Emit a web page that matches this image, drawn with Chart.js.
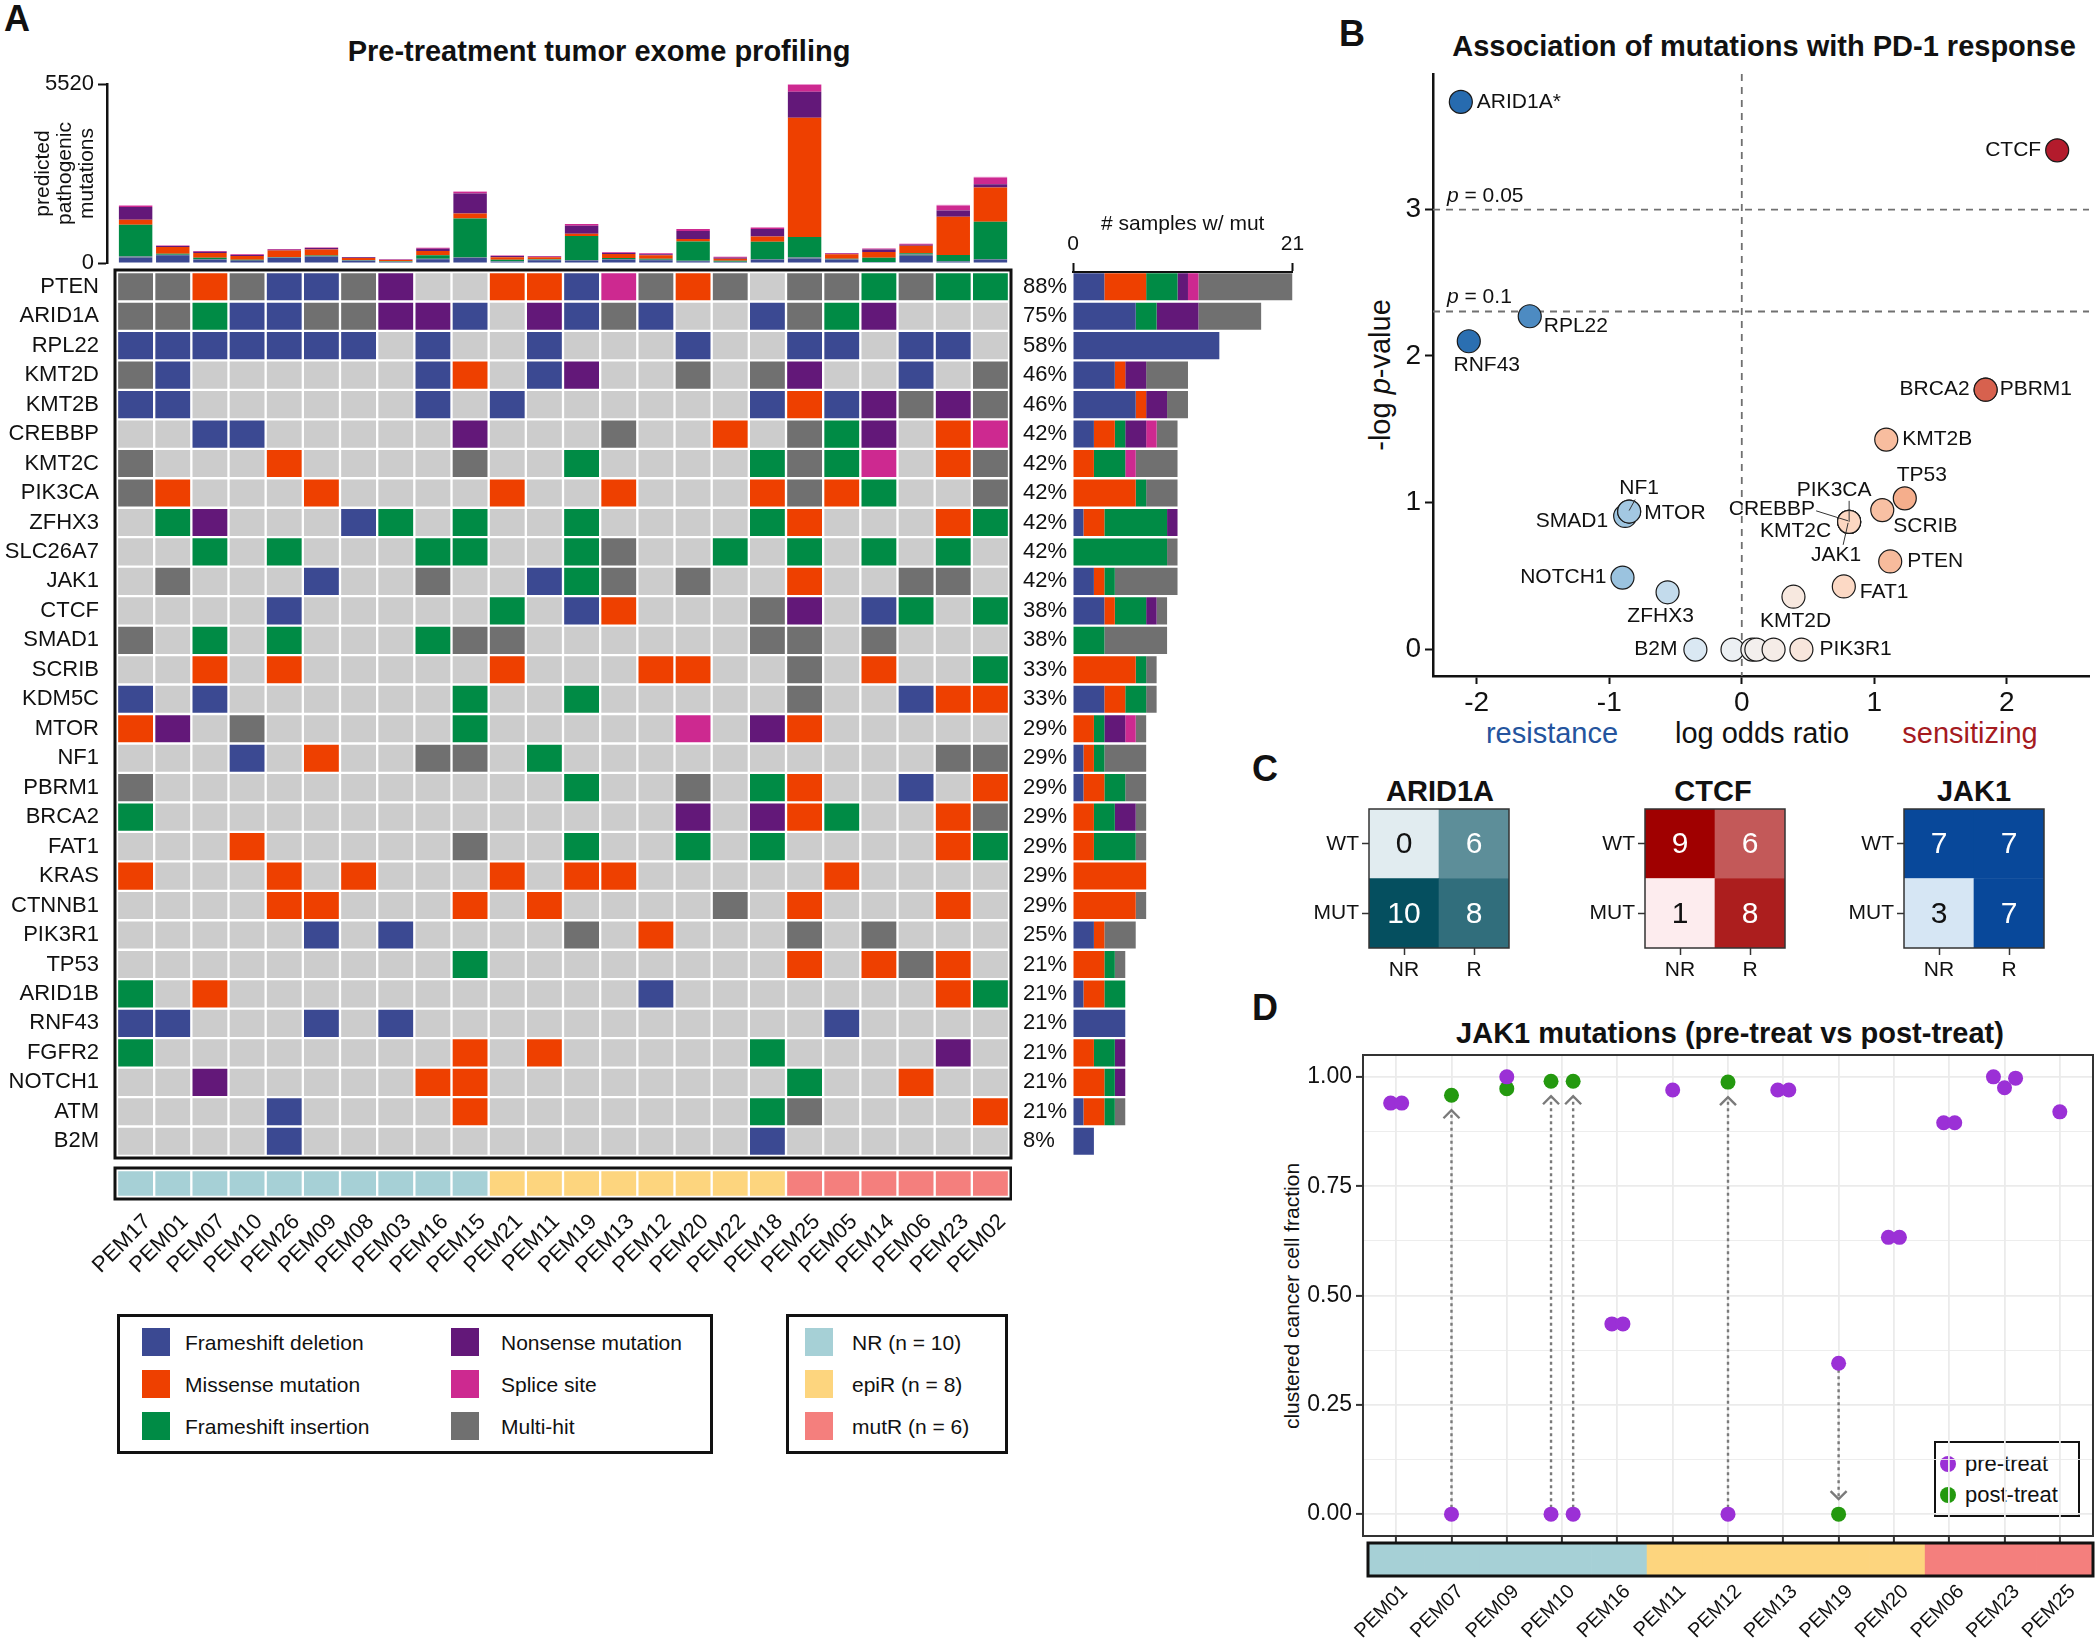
<!DOCTYPE html>
<html>
<head>
<meta charset="utf-8">
<title>Pre-treatment exome profiling and PD-1 response</title>
<script src="https://cdn.jsdelivr.net/npm/chart.js@4.4.1/dist/chart.umd.min.js"></script>
<style>
  html, body { margin: 0; padding: 0; background: #fff; }
  #page { position: relative; width: 2100px; height: 1642px; overflow: hidden;
    font-family: 'Liberation Sans', Arial, Helvetica, sans-serif; color: #111; }
  #page canvas { position: absolute; }
  .t { position: absolute; white-space: nowrap; line-height: 1; transform: translate(-50%, -50%); }
  .l { position: absolute; white-space: nowrap; line-height: 1; transform: translateY(-50%); }
  .rot { transform: translate(-50%, -50%) rotate(-90deg); }
  .letter { font-size: 36px; font-weight: bold; }
  .title { font-size: 29px; font-weight: bold; }
  .box { position: absolute; box-sizing: border-box; border: 3px solid #111; }
  .sw { position: absolute; width: 28px; height: 28px; }
  .lg { font-size: 21px; }
  .dot { position: absolute; width: 16px; height: 16px; border-radius: 50%; }
</style>
</head>
<body>
<div id="page">
  <div class="t letter" style="left:17px;top:19px">A</div>
  <div class="t title" style="left:599px;top:51px">Pre-treatment tumor exome profiling</div>

  <div class="box" style="left:117px;top:1314px;width:596px;height:140px"></div>
  <div class="sw" style="left:142px;top:1328px;background:#3B4992"></div>
  <div class="l lg" style="left:185px;top:1342px">Frameshift deletion</div>
  <div class="sw" style="left:142px;top:1370px;background:#EE4000"></div>
  <div class="l lg" style="left:185px;top:1384px">Missense mutation</div>
  <div class="sw" style="left:142px;top:1412px;background:#008B45"></div>
  <div class="l lg" style="left:185px;top:1426px">Frameshift insertion</div>
  <div class="sw" style="left:451px;top:1328px;background:#631879"></div>
  <div class="l lg" style="left:501px;top:1342px">Nonsense mutation</div>
  <div class="sw" style="left:451px;top:1370px;background:#CD2990"></div>
  <div class="l lg" style="left:501px;top:1384px">Splice site</div>
  <div class="sw" style="left:451px;top:1412px;background:#707070"></div>
  <div class="l lg" style="left:501px;top:1426px">Multi-hit</div>

  <div class="box" style="left:786px;top:1314px;width:222px;height:140px"></div>
  <div class="sw" style="left:805px;top:1328px;background:#A6D0D6"></div>
  <div class="l lg" style="left:852px;top:1342px">NR (n = 10)</div>
  <div class="sw" style="left:805px;top:1370px;background:#FDD57E"></div>
  <div class="l lg" style="left:852px;top:1384px">epiR (n = 8)</div>
  <div class="sw" style="left:805px;top:1412px;background:#F47F7D"></div>
  <div class="l lg" style="left:852px;top:1426px">mutR (n = 6)</div>

  <div class="t letter" style="left:1352px;top:34px">B</div>
  <div class="t title" style="left:1764px;top:46px">Association of mutations with PD-1 response</div>
  <div class="t rot" style="left:1380px;top:375px;font-size:29px">-log <i>p</i>-value</div>
  <div class="t" style="left:1552px;top:733px;font-size:29px;color:#24549E">resistance</div>
  <div class="t" style="left:1762px;top:733px;font-size:29px">log odds ratio</div>
  <div class="t" style="left:1970px;top:733px;font-size:29px;color:#A51B1F">sensitizing</div>

  <div class="t letter" style="left:1265px;top:769px">C</div>

  <div class="t letter" style="left:1265px;top:1008px">D</div>
  <div class="t title" style="left:1730px;top:1033px">JAK1 mutations (pre-treat vs post-treat)</div>
  <div class="t rot" style="left:1291px;top:1296px;font-size:21px">clustered cancer cell fraction</div>
  <div class="box" style="left:1934px;top:1441px;width:146px;height:76px;border-width:2px"></div>
  <div class="dot" style="left:1940px;top:1456px;background:#9B30D6"></div>
  <div class="l" style="left:1965px;top:1464px;font-size:22px">pre-treat</div>
  <div class="dot" style="left:1940px;top:1487px;background:#24990F"></div>
  <div class="l" style="left:1965px;top:1495px;font-size:22px">post-treat</div>
</div>

<script>
// ---------- panel A: oncoprint ----------
const samples = ['PEM17','PEM01','PEM07','PEM10','PEM26','PEM09','PEM08','PEM03','PEM16','PEM15',
  'PEM21','PEM11','PEM19','PEM13','PEM12','PEM20','PEM22','PEM18',
  'PEM25','PEM05','PEM14','PEM06','PEM23','PEM02'];
const sampleGroup = ['NR','NR','NR','NR','NR','NR','NR','NR','NR','NR',
  'epiR','epiR','epiR','epiR','epiR','epiR','epiR','epiR',
  'mutR','mutR','mutR','mutR','mutR','mutR'];

const genes = ['PTEN','ARID1A','RPL22','KMT2D','KMT2B','CREBBP','KMT2C','PIK3CA','ZFHX3','SLC26A7',
  'JAK1','CTCF','SMAD1','SCRIB','KDM5C','MTOR','NF1','PBRM1','BRCA2','FAT1',
  'KRAS','CTNNB1','PIK3R1','TP53','ARID1B','RNF43','FGFR2','NOTCH1','ATM','B2M'];

// one letter per sample: D frameshift del, M missense, I frameshift ins, S nonsense, P splice, X multi-hit, N none
const mutMatrix = [
  'XXMXDDXSNNMMDPXMXNXXIXII',
  'XXIDDXXSSDNSDXDNNDXISNNN',
  'DDDDDDDNDNNDNNNDNNDDNDDN',
  'XDNNNNNNDMNDSNNXNXSNNDNX',
  'DDNNNNNNDNDNNNNNNDMDSXSX',
  'NNDDNNNNNSNNNXNNMNXISNMP',
  'XNNNMNNNNXNNINNNNIXIPNMX',
  'XMNNNMNNNNMNNMNNNMXMINNX',
  'NISNNNDININNINNNNIMNNNMI',
  'NNININNNIINNIXNNININININ',
  'NXNNNDNNXNNDIXNXNNMNNXXN',
  'NNNNDNNNNNINDMNNNXSNDINI',
  'XNININNNIXXNNNNNNXXNXNNN',
  'NNMNMNNNNNMNNNMMNNXNMNNI',
  'DNDNNNNNNINNINNNNNXNNDMM',
  'MSNXNNNNNINNNNNPNSMNNNNN',
  'NNNDNMNNXXNINNNNNNNNNNXX',
  'XNNNNNNNNNNNINNXNIMNNDNM',
  'INNNNNNNNNNNNNNSNSMINNMX',
  'NNNMNNNNNXNNINNININNNNMI',
  'MNNNMNMNNNMNMMNNNNNMNNNN',
  'NNNNMMNNNMNMNNNNXNMNNNMN',
  'NNNNNDNDNNNNXNMNNNXNXNNN',
  'NNNNNNNNNINNNNNNNNMNMXMN',
  'INMNNNNNNNNNNNDNNNNNNNMI',
  'DDNNNDNDNNNNNNNNNNNDNNNN',
  'INNNNNNNNMNMNNNNNINNNNSN',
  'NNSNNNNNMMNNNNNNNNINNMNN',
  'NNNNDNNNNMNNNNNNNIXNNNNM',
  'NNNNDNNNNNNNNNNNNDNNNNNN'
];

// predicted pathogenic mutations per sample (stacked, bottom to top)
const fsDelCounts    = [164,236,103,62,154,195,62,31,113,154,41,82,72,103,82,51,31,103,133,103,20,215,41,103];
const inFrameCounts  = [41,20,20,31,20,20,20,10,20,20,10,20,20,20,20,20,10,20,41,20,10,51,20,20];
const fsInsCounts    = [975,31,41,10,10,20,10,10,103,1200,51,10,739,31,31,595,31,534,626,10,133,31,185,1149];
const missenseCounts = [154,205,144,113,205,185,62,41,133,154,72,62,72,123,103,72,62,164,3683,133,174,236,1180,1057];
const nonsenseCounts = [390,31,41,31,20,41,20,10,72,616,41,20,246,31,31,246,31,226,800,20,82,31,195,103];
const spliceCounts   = [41,20,20,20,20,20,10,10,31,51,20,20,51,20,31,62,31,51,216,20,31,31,154,205];
const otherCounts    = [20,0,0,0,0,0,0,0,0,20,0,0,0,0,0,0,0,0,21,0,0,0,20,20];
const topMax = 5520;

// ---------- panel B: association scatter ----------
const assocGene = ['ARID1A*','RNF43','RPL22','NOTCH1','SMAD1','NF1','MTOR','ZFHX3','B2M',
  'KDM5C','SLC26A7','KRAS','CTNNB1','PIK3R1','KMT2D','FAT1','PIK3CA','CREBBP','KMT2C','JAK1',
  'SCRIB','PTEN','KMT2B','TP53','BRCA2','PBRM1','CTCF'];
const logOR   = [-2.12,-2.06,-1.60,-0.90,-0.88,-0.85,-0.85,-0.56,-0.35,
  -0.07,0.08,0.11,0.24,0.45,0.39,0.77,0.81,0.81,0.81,0.81,
  1.06,1.12,1.09,1.23,1.84,1.84,2.38];
const negLogP = [3.73,2.10,2.27,0.49,0.91,0.94,0.94,0.39,0,
  0,0,0,0,0,0.36,0.43,0.87,0.87,0.87,0.87,
  0.95,0.60,1.43,1.03,1.77,1.77,3.40];
const pCutoffs = [0.05, 0.1];

// ---------- panel C: contingency tables ----------
const ctGenes = ['ARID1A','CTCF','JAK1'];
const ctCols = ['NR','R'];
const ctRows = ['WT','MUT'];
const ctWT  = [[0,6],[9,6],[7,7]];
const ctMUT = [[10,8],[1,8],[3,7]];

// ---------- panel D: JAK1 cancer cell fractions ----------
const jakSamples = ['PEM01','PEM07','PEM09','PEM10','PEM16','PEM11','PEM12','PEM13','PEM19','PEM20','PEM06','PEM23','PEM25'];
const jakGroup   = ['NR','NR','NR','NR','NR','epiR','epiR','epiR','epiR','epiR','mutR','mutR','mutR'];
const mutSample = ['PEM01','PEM01','PEM07','PEM09','PEM10','PEM10','PEM16','PEM16','PEM11','PEM12',
  'PEM13','PEM13','PEM19','PEM20','PEM20','PEM06','PEM06','PEM23','PEM23','PEM23','PEM25'];
const mutDodge  = [-1,1,0,0,-2,2,-1,1,0,0,-1,1,0,-1,1,-1,1,-2,0,2,0];
const preCCF  = [0.94,0.94,0,1.00,0,0,0.435,0.435,0.97,0,0.97,0.97,0.345,0.633,0.633,0.895,0.895,1.00,0.975,0.997,0.92];
const postCCF = [null,null,0.958,0.973,0.99,0.99,null,null,null,0.988,null,null,0,null,null,null,null,null,null,null,null];

// ---------- styling ----------
const mutColors = { D: '#3B4992', M: '#EE4000', I: '#008B45', S: '#631879', P: '#CD2990', X: '#707070', N: '#CCCCCC' };
const groupColors = { NR: '#A6D0D6', epiR: '#FDD57E', mutR: '#F47F7D' };
const FONT = "'Liberation Sans', Arial, sans-serif";

Chart.defaults.font.family = FONT;
Chart.defaults.color = '#111';
Chart.defaults.animation = false;
Chart.defaults.responsive = false;
Chart.defaults.devicePixelRatio = 1;
Chart.defaults.layout.autoPadding = false;
Chart.defaults.plugins.legend.display = false;
Chart.defaults.plugins.tooltip.enabled = false;

// black box around the plotting area
Chart.register({
  id: 'frame',
  afterDraw(chart, args, opts) {
    if (!opts.width) return;
    const a = chart.chartArea, ctx = chart.ctx, p = opts.pad || 0;
    ctx.save();
    ctx.lineWidth = opts.width;
    ctx.strokeStyle = opts.color || '#111';
    ctx.strokeRect(a.left - p, a.top - p, a.width + 2 * p, a.height + 2 * p);
    ctx.restore();
  }
});

const page = document.getElementById('page');
function canvasAt(left, top, w, h) {
  const c = document.createElement('canvas');
  c.width = w; c.height = h;
  c.style.left = left + 'px'; c.style.top = top + 'px';
  c.style.width = w + 'px'; c.style.height = h + 'px';
  page.appendChild(c);
  return c;
}
// fixed axis sizes, and no extra room reserved for end labels
const fixW = w => s => { s.width = w; s.paddingTop = 0; s.paddingBottom = 0; };
const fixH = h => s => { s.height = h; s.paddingLeft = 0; s.paddingRight = 0; };
const onlyTicks = vals => s => { s.ticks = vals.map(v => ({ value: v })); };

function hexRgb(h) { return [1, 3, 5].map(i => parseInt(h.slice(i, i + 2), 16)); }
function mixHex(a, b, t) {
  const A = hexRgb(a), B = hexRgb(b);
  return 'rgb(' + A.map((v, i) => Math.round(v + (B[i] - v) * t)).join(',') + ')';
}

// ---- top bars: mutation burden ----
const topSeries = [
  { name: 'Frameshift deletion', color: '#3B4992', values: fsDelCounts },
  { name: 'In frame', color: '#5E7C8C', values: inFrameCounts },
  { name: 'Frameshift insertion', color: '#008B45', values: fsInsCounts },
  { name: 'Missense mutation', color: '#EE4000', values: missenseCounts },
  { name: 'Nonsense mutation', color: '#631879', values: nonsenseCounts },
  { name: 'Splice site', color: '#CD2990', values: spliceCounts },
  { name: 'Other', color: '#F0A8DC', values: otherCounts }
];

new Chart(canvasAt(0, 70, 1012, 200), {
  type: 'bar',
  data: {
    datasets: topSeries.map(s => ({
      label: s.name,
      data: s.values.map((v, i) => ({ x: i + 0.5, y: v })),
      backgroundColor: s.color,
      borderWidth: 0,
      barPercentage: 0.9,
      categoryPercentage: 1
    }))
  },
  options: {
    layout: { padding: { top: 14, right: 3, bottom: 7 } },
    scales: {
      x: { type: 'linear', stacked: true, offset: false, min: -0.27, max: 24, display: false },
      y: {
        stacked: true, min: 0, max: topMax,
        afterBuildTicks: onlyTicks([0, topMax]),
        afterFit: fixW(107),
        ticks: { font: { size: 22 }, padding: 4, callback: v => String(v) },
        grid: { drawOnChartArea: false, tickLength: 9, tickColor: '#111', tickWidth: 2 },
        border: { color: '#111', width: 2.5 },
        title: { display: true, text: ['predicted', 'pathogenic', 'mutations'],
          font: { size: 21, lineHeight: 1.05 }, padding: { top: 32 } }
      }
    }
  }
});

// ---- oncoprint grid ----
const mutatedCount = genes.map((g, r) => [...mutMatrix[r]].filter(c => c !== 'N').length);
const pctLabels = mutatedCount.map(n => Math.round(100 * n / samples.length) + '%');

new Chart(canvasAt(0, 262, 1070, 902), {
  type: 'bar',
  data: {
    labels: genes,
    datasets: samples.map((s, c) => ({
      label: s,
      data: genes.map(() => 1),
      backgroundColor: mutMatrix.map(row => mutColors[row[c]]),
      borderColor: '#fff',
      borderWidth: 1.5,
      borderSkipped: false,
      barPercentage: 1,
      categoryPercentage: 1
    }))
  },
  options: {
    indexAxis: 'y',
    layout: { padding: { top: 10, bottom: 8 } },
    scales: {
      x: { stacked: true, min: 0, max: samples.length, display: false },
      y: {
        stacked: true, afterFit: fixW(117),
        ticks: { font: { size: 22 }, padding: 10, autoSkip: false },
        grid: { display: false }, border: { display: false }
      },
      y2: {
        type: 'category', labels: pctLabels, position: 'right', afterFit: fixW(61),
        ticks: { font: { size: 22 }, padding: 6, autoSkip: false },
        grid: { display: false }, border: { display: false }
      }
    },
    plugins: { frame: { width: 3, pad: 2, color: '#111' } }
  }
});

// ---- samples with mutation per gene ----
const barOrder = ['D', 'M', 'I', 'S', 'P', 'X'];
new Chart(canvasAt(1063, 202, 244, 962), {
  type: 'bar',
  data: {
    labels: genes,
    datasets: barOrder.map(k => ({
      label: k,
      data: mutMatrix.map(row => [...row].filter(c => c === k).length),
      backgroundColor: mutColors[k],
      borderWidth: 0,
      barPercentage: 0.92,
      categoryPercentage: 1
    }))
  },
  options: {
    indexAxis: 'y',
    layout: { padding: { top: 10, left: 10, right: 14.5, bottom: 8 } },
    scales: {
      x: {
        stacked: true, position: 'top', min: 0, max: 21,
        afterBuildTicks: onlyTicks([0, 21]),
        afterFit: fixH(60),
        ticks: { font: { size: 21 }, padding: 6, maxRotation: 0 },
        grid: { drawOnChartArea: false, tickLength: 9, tickColor: '#111', tickWidth: 2 },
        border: { color: '#111', width: 2 },
        title: { display: true, text: '# samples w/ mut', font: { size: 21 }, padding: { top: 0, bottom: 0 } }
      },
      y: { stacked: true, display: false }
    }
  }
});

// ---- response group strip ----
new Chart(canvasAt(0, 1160, 1012, 150), {
  type: 'bar',
  data: {
    labels: samples,
    datasets: [{
      data: samples.map(() => 1),
      backgroundColor: sampleGroup.map(g => groupColors[g]),
      borderColor: '#fff', borderWidth: 1.5, borderSkipped: false,
      barPercentage: 1, categoryPercentage: 1
    }]
  },
  options: {
    layout: { padding: { left: 117, right: 3, top: 10 } },
    scales: {
      x: {
        afterFit: fixH(113),
        ticks: { font: { size: 22 }, minRotation: 45, maxRotation: 45, autoSkip: false, padding: 4, labelOffset: 12 },
        grid: { display: false }, border: { display: false }
      },
      y: { display: false, min: 0, max: 1 }
    },
    plugins: { frame: { width: 3, pad: 2, color: '#111' } }
  }
});

// ---------- panel B ----------
const rdbuStops = [[-2.2, '#2166ac'], [-1.2, '#6aa3d0'], [-0.85, '#a3c8e2'], [-0.35, '#dae8f3'],
  [0, '#f1f2f3'], [0.45, '#f8e6dc'], [0.8, '#fcd8c3'], [1.15, '#f7b898'], [1.3, '#f4a582'],
  [1.85, '#d6604d'], [2.4, '#b2182b']];
function divergingFill(v) {
  if (v <= rdbuStops[0][0]) return rdbuStops[0][1];
  for (let i = 1; i < rdbuStops.length; i++) {
    const [x1, c1] = rdbuStops[i], [x0, c0] = rdbuStops[i - 1];
    if (v <= x1) return mixHex(c0, c1, (v - x0) / (x1 - x0));
  }
  return rdbuStops[rdbuStops.length - 1][1];
}

// label placement: [dx, dy, align, optional leader line]
const labelPlace = {
  'ARID1A*': [16, 0, 'left'],
  'CTCF': [-16, 0, 'right'],
  'RPL22': [14, 10, 'left'],
  'RNF43': [18, 24, 'center'],
  'BRCA2': [-16, 0, 'right'],
  'PBRM1': [14, 0, 'left'],
  'KMT2B': [16, 0, 'left'],
  'TP53': [17, -23, 'center'],
  'SCRIB': [11, 16, 'left'],
  'PIK3CA': [-15, -32, 'center', [0, -21, 0, 0]],
  'CREBBP': [-34, -13, 'right', [-33, -11, -1, -1]],
  'KMT2C': [-18, 9, 'right'],
  'JAK1': [-13, 33, 'center', [-6, 23, -1, 1]],
  'PTEN': [17, 0, 'left'],
  'FAT1': [16, 6, 'left'],
  'KMT2D': [2, 24, 'center'],
  'NF1': [10, -23, 'center', [6, -12, 0, -1]],
  'MTOR': [15, 2, 'left'],
  'SMAD1': [-17, 5, 'right'],
  'NOTCH1': [-16, 0, 'right'],
  'ZFHX3': [-7, 24, 'center'],
  'B2M': [-18, 0, 'right'],
  'PIK3R1': [18, 0, 'left']
};

const assocDecor = {
  id: 'assocDecor',
  beforeDatasetsDraw(chart) {
    const { ctx, chartArea: a, scales: { x, y } } = chart;
    ctx.save();
    ctx.strokeStyle = '#707070'; ctx.lineWidth = 1.8; ctx.setLineDash([7, 6]);
    pCutoffs.forEach(p => {
      const py = y.getPixelForValue(-Math.log(p));
      ctx.beginPath(); ctx.moveTo(a.left, py); ctx.lineTo(a.right, py); ctx.stroke();
    });
    const px = x.getPixelForValue(0);
    ctx.beginPath(); ctx.moveTo(px, a.top); ctx.lineTo(px, a.bottom); ctx.stroke();
    ctx.setLineDash([]);
    ctx.fillStyle = '#111'; ctx.textBaseline = 'alphabetic'; ctx.textAlign = 'left';
    pCutoffs.forEach(p => {
      const py = y.getPixelForValue(-Math.log(p)) - 8;
      let cx = a.left + 14;
      ctx.font = 'italic 21px ' + FONT;
      ctx.fillText('p', cx, py);
      cx += ctx.measureText('p').width;
      ctx.font = '21px ' + FONT;
      ctx.fillText(' = ' + p, cx, py);
    });
    ctx.restore();
  },
  afterDatasetsDraw(chart) {
    const ctx = chart.ctx, pts = chart.getDatasetMeta(0).data;
    ctx.save();
    ctx.font = '21px ' + FONT; ctx.fillStyle = '#111'; ctx.textBaseline = 'middle';
    ctx.strokeStyle = '#333'; ctx.lineWidth = 1;
    assocGene.forEach((g, i) => {
      const place = labelPlace[g];
      if (!place) return;
      const el = pts[i];
      ctx.textAlign = place[2];
      ctx.fillText(g, el.x + place[0], el.y + place[1]);
      const lead = place[3];
      if (lead) {
        ctx.beginPath();
        ctx.moveTo(el.x + lead[0], el.y + lead[1]);
        ctx.lineTo(el.x + lead[2], el.y + lead[3]);
        ctx.stroke();
      }
    });
    ctx.restore();
  }
};

const axisGrid = { drawOnChartArea: false, tickLength: 8, tickColor: '#111', tickWidth: 2 };
new Chart(canvasAt(1340, 64, 757, 657), {
  type: 'scatter',
  data: {
    datasets: [{
      data: assocGene.map((g, i) => ({ x: logOR[i], y: negLogP[i] })),
      backgroundColor: logOR.map(divergingFill),
      borderColor: '#1a1a1a', borderWidth: 1.2,
      pointRadius: 11.5
    }]
  },
  options: {
    layout: { padding: { top: 10, right: 8 } },
    scales: {
      x: {
        type: 'linear', min: -2.33, max: 2.62,
        afterBuildTicks: onlyTicks([-2, -1, 0, 1, 2]), afterFit: fixH(45),
        ticks: { font: { size: 28 }, padding: 2 },
        grid: axisGrid, border: { color: '#111', width: 2.5 }
      },
      y: {
        min: -0.18, max: 3.92,
        afterBuildTicks: onlyTicks([0, 1, 2, 3]), afterFit: fixW(93),
        ticks: { font: { size: 28 }, padding: 4 },
        grid: axisGrid, border: { color: '#111', width: 2.5 }
      }
    }
  },
  plugins: [assocDecor]
});

// ---------- panel C ----------
const ctLow  = ['#E1ECF0', '#FDECEE', '#D6E6F4'];
const ctHigh = ['#054F5F', '#A00000', '#08489A'];
const ctBoxLeft = [1369, 1645, 1904];
const ctTitleX = [1440, 1713, 1974];

const cellText = {
  id: 'cellText',
  afterDatasetsDraw(chart) {
    const ctx = chart.ctx;
    ctx.save();
    ctx.font = '30px ' + FONT; ctx.textAlign = 'center'; ctx.textBaseline = 'middle';
    chart.data.datasets.forEach((ds, di) => {
      chart.getDatasetMeta(di).data.forEach((bar, j) => {
        ctx.fillStyle = ds.textColor[j];
        ctx.fillText(String(ds.counts[j]), bar.x, (bar.y + bar.base) / 2 + 1);
      });
    });
    ctx.restore();
  }
};

ctGenes.forEach((gene, k) => {
  const cells = ctWT[k].concat(ctMUT[k]);
  const lo = Math.min(...cells), hi = Math.max(...cells);
  const level = v => (v - lo) / (hi - lo);
  const row = (name, counts) => ({
    label: name,
    data: counts.map(() => 1),
    counts: counts,
    backgroundColor: counts.map(v => mixHex(ctLow[k], ctHigh[k], level(v))),
    textColor: counts.map(v => (level(v) > 0.5 ? '#fff' : '#111')),
    borderWidth: 0, barPercentage: 1, categoryPercentage: 1
  });
  const title = document.createElement('div');
  title.className = 't title';
  title.style.left = ctTitleX[k] + 'px'; title.style.top = '791px';
  title.textContent = gene;
  page.appendChild(title);

  const tickGrid = { drawOnChartArea: false, tickLength: 7, tickColor: '#333', tickWidth: 1.5 };
  new Chart(canvasAt(ctBoxLeft[k] - 80, 799, 230, 194), {
    type: 'bar',
    data: { labels: ctCols, datasets: [row(ctRows[1], ctMUT[k]), row(ctRows[0], ctWT[k])] },
    options: {
      layout: { padding: { top: 10, right: 10, bottom: 5 } },
      scales: {
        x: {
          stacked: true, afterFit: fixH(40),
          ticks: { font: { size: 21 }, padding: 3 },
          grid: Object.assign({ offset: false }, tickGrid), border: { display: false }
        },
        y: {
          stacked: true, min: 0, max: 2,
          afterBuildTicks: onlyTicks([0.5, 1.5]), afterFit: fixW(80),
          ticks: { font: { size: 21 }, padding: 3, callback: v => (v > 1 ? ctRows[0] : ctRows[1]) },
          grid: tickGrid, border: { display: false }
        }
      },
      plugins: { frame: { width: 1.5, color: '#333' } }
    },
    plugins: [cellText]
  });
});

// ---------- panel D ----------
const jakX = i => jakSamples.indexOf(mutSample[i]) + mutDodge[i] * 0.1;

const ccfArrows = {
  id: 'ccfArrows',
  beforeDatasetsDraw(chart) {
    const { ctx, scales: { x, y } } = chart;
    ctx.save();
    ctx.strokeStyle = '#7a7a7a'; ctx.lineWidth = 2.4;
    preCCF.forEach((pre, i) => {
      const post = postCCF[i];
      if (post === null || Math.abs(post - pre) < 0.1) return;
      const px = x.getPixelForValue(jakX(i));
      const y0 = y.getPixelForValue(pre);
      const dir = post > pre ? -1 : 1;
      const y1 = y.getPixelForValue(post) - dir * 15;
      ctx.setLineDash([3, 3.5]);
      ctx.beginPath(); ctx.moveTo(px, y0); ctx.lineTo(px, y1); ctx.stroke();
      ctx.setLineDash([]);
      ctx.beginPath();
      ctx.moveTo(px - 8, y1 - dir * 8); ctx.lineTo(px, y1); ctx.lineTo(px + 8, y1 - dir * 8);
      ctx.stroke();
    });
    ctx.restore();
  }
};

const isMajor = v => Math.abs(v * 4 - Math.round(v * 4)) < 1e-6;
new Chart(canvasAt(1270, 1045, 830, 501), {
  type: 'scatter',
  data: {
    datasets: [
      {
        label: 'pre-treat',
        data: preCCF.map((v, i) => ({ x: jakX(i), y: v })),
        backgroundColor: '#9B30D6', borderWidth: 0, pointRadius: 7.5
      },
      {
        label: 'post-treat',
        data: postCCF.map((v, i) => (v === null ? null : { x: jakX(i), y: v })).filter(Boolean),
        backgroundColor: '#24990F', borderWidth: 0, pointRadius: 7.5
      }
    ]
  },
  options: {
    layout: { padding: { top: 10, right: 7 } },
    scales: {
      x: {
        type: 'linear', min: -0.6, max: jakSamples.length - 0.4,
        afterBuildTicks: onlyTicks(jakSamples.map((s, i) => i)), afterFit: fixH(10),
        ticks: { display: false },
        grid: { color: '#EBEBEB', lineWidth: 1.8, tickColor: '#333', tickLength: 8, tickWidth: 2 },
        border: { display: false }
      },
      y: {
        min: -0.05, max: 1.05,
        afterBuildTicks: onlyTicks([0, 0.125, 0.25, 0.375, 0.5, 0.625, 0.75, 0.875, 1]),
        afterFit: fixW(93),
        ticks: { font: { size: 23 }, padding: 4, callback: v => (isMajor(v) ? v.toFixed(2) : '') },
        grid: {
          color: '#EBEBEB',
          lineWidth: c => (isMajor(c.tick.value) ? 1.8 : 0.9),
          tickColor: c => (isMajor(c.tick.value) ? '#333' : 'rgba(0,0,0,0)'),
          tickLength: 7, tickWidth: 2
        },
        border: { display: false }
      }
    },
    plugins: { frame: { width: 2, color: '#333' } }
  },
  plugins: [ccfArrows]
});

new Chart(canvasAt(1300, 1534, 800, 108), {
  type: 'bar',
  data: {
    labels: jakSamples,
    datasets: [{
      data: jakSamples.map(() => 1),
      backgroundColor: jakGroup.map(g => groupColors[g]),
      borderWidth: 0, barPercentage: 1, categoryPercentage: 1
    }]
  },
  options: {
    layout: { padding: { left: 69, right: 8, top: 10 } },
    scales: {
      x: {
        afterFit: fixH(67),
        ticks: { font: { size: 20 }, minRotation: 45, maxRotation: 45, autoSkip: false, padding: -3, labelOffset: 8 },
        grid: { display: false }, border: { display: false }
      },
      y: { display: false, min: 0, max: 1 }
    },
    plugins: { frame: { width: 3, pad: 1, color: '#111' } }
  }
});
</script>
</body>
</html>
